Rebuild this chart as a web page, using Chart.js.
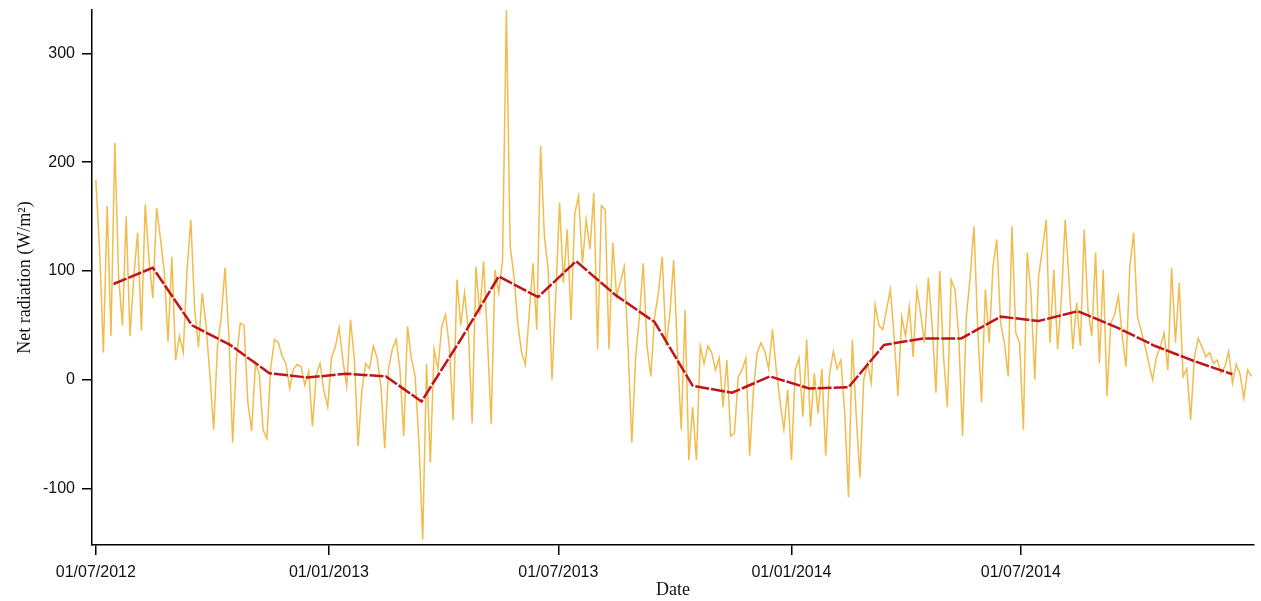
<!DOCTYPE html>
<html>
<head>
<meta charset="utf-8">
<script src="https://cdn.jsdelivr.net/npm/chart.js@4/dist/chart.umd.min.js"></script>
<style>
  html, body { margin: 0; padding: 0; background: #fff; }
  #wrap { width: 1261px; height: 601px; position: relative; }
</style>
</head>
<body>
<div id="wrap"><canvas id="chart"></canvas></div>
<script>
// --- Data ---
// daily net radiation, one reading every 3 days starting 01/07/2012
const startDate = '2012-07-01';
const dayStep = 3;
const dailyNetRad = [
  184, 120, 25, 160, 40, 218, 95, 50, 150, 40,
  95, 135, 45, 161, 110, 75, 158, 130, 100, 35,
  113, 18, 40, 25, 101, 147, 65, 30, 80, 50,
  5, -46, 30, 58, 103, 40, -58, 20, 52, 50,
  -21, -47, 15, 5, -46, -54, 10, 37, 34, 22,
  15, -8, 10, 14, 12, -5, 8, -43, 5, 15,
  -10, -25, 20, 30, 48, 18, -6, 55, 20, -61,
  -10, 15, 10, 31, 20, -6, -63, 10, 28, 37,
  10, -52, 49, 20, 3, -58, -147, 15, -76, 28,
  10, 49, 60, 30, -37, 92, 50, 80, 45, -40,
  104, 60, 109, 40, -41, 101, 80, 110, 340, 123,
  95, 52, 25, 14, 60, 107, 46, 215, 132, 101,
  0, 77, 163, 89, 138, 55, 153, 169, 107, 147,
  120, 172, 28, 160, 156, 28, 126, 77, 90, 104,
  31, -58, 20, 58, 107, 31, 3, 58, 80, 113,
  31, 60, 110, 25, -46, 64, -74, -25, -74, 31,
  15, 31, 25, 9, 20, -25, 18, -52, -49, 3,
  9, 20, -70, -9, 25, 34, 26, 10, 46, 9,
  -20, -46, -9, -74, 9, 20, -34, 37, -43, 6,
  -31, 10, -70, 5, 26, 10, 18, -30, -108, 37,
  -31, -90, 0, 15, -3, 69, 50, 46, 64, 83,
  40, -15, 58, 40, 67, 21, 83, 60, 34, 94,
  50, -12, 100, 21, -25, 92, 83, 40, -52, 58,
  94, 141, 46, -21, 83, 34, 104, 129, 52, 34,
  3, 141, 43, 34, -46, 117, 80, 0, 95, 120,
  147, 34, 101, 28, 74, 147, 92, 28, 71, 31,
  138, 64, 40, 117, 15, 101, -15, 52, 60, 77,
  40, 12, 104, 135, 58, 45, 31, 15, 0, 21,
  30, 43, 9, 103, 34, 89, 3, 10, -37, 21,
  38, 30, 21, 25, 15, 18, 6, 12, 26, -3,
  14, 5, -17, 9, 3
];

// monthly means, plotted at mid-month
const months = [
  '2012-07', '2012-08', '2012-09', '2012-10', '2012-11', '2012-12',
  '2013-01', '2013-02', '2013-03', '2013-04', '2013-05', '2013-06',
  '2013-07', '2013-08', '2013-09', '2013-10', '2013-11', '2013-12',
  '2014-01', '2014-02', '2014-03', '2014-04', '2014-05', '2014-06',
  '2014-07', '2014-08', '2014-09', '2014-10', '2014-11', '2014-12'
];
const monthlyNetRad = [
  88, 103, 50, 32, 6, 2,
  5.5, 3, -20, 37, 95, 76,
  109, 78, 53, -5.5, -12, 3,
  -8, -7, 32, 38, 38, 58,
  54, 63, 48, 31, 17, 5
];

const xTickLabels = ['01/07/2012', '01/01/2013', '01/07/2013', '01/01/2014', '01/07/2014'];
const yTickValues = [-100, 0, 100, 200, 300];

// --- Helpers ---
const DAY_MS = 86400000;
const t0 = Date.parse(startDate + 'T00:00:00Z');
const daysFrom = (y, m, d) => (Date.UTC(y, m - 1, d) - t0) / DAY_MS;

const dailyPoints = dailyNetRad.map((v, i) => ({ x: i * dayStep, y: v }));
const monthlyPoints = months.map((m, i) => {
  const [y, mo] = m.split('-').map(Number);
  return { x: daysFrom(y, mo, 15), y: monthlyNetRad[i] };
});
const xTickDays = xTickLabels.map(s => {
  const [d, m, y] = s.split('/').map(Number);
  return daysFrom(y, m, d);
});

const tickFont = { family: '"Liberation Sans", Arial, sans-serif', size: 16 };
const titleFont = { family: '"Liberation Serif", "Times New Roman", serif', size: 18 };

new Chart(document.getElementById('chart'), {
  type: 'line',
  data: {
    datasets: [
      {
        label: 'Monthly',
        data: monthlyPoints,
        borderColor: '#c0141c',
        borderWidth: 2.5,
        borderDash: [14, 2],
        pointRadius: 0,
        fill: false,
        tension: 0
      },
      {
        label: 'Daily',
        data: dailyPoints,
        borderColor: '#f2bc4c',
        borderWidth: 1.5,
        pointRadius: 0,
        fill: false,
        tension: 0
      }
    ]
  },
  options: {
    responsive: true,
    maintainAspectRatio: false,
    animation: false,
    layout: { padding: { top: 10, right: 7, left: 0, bottom: 0 } },
    plugins: { legend: { display: false }, tooltip: { enabled: false } },
    scales: {
      x: {
        type: 'linear',
        min: -3,
        max: 914,
        border: { display: true, color: '#000', width: 1.5 },
        grid: { display: true, drawOnChartArea: false, drawTicks: true, tickLength: 10, color: '#000', lineWidth: 1.5 },
        afterBuildTicks: scale => { scale.ticks = xTickDays.map(v => ({ value: v })); },
        ticks: {
          autoSkip: false,
          maxRotation: 0,
          padding: 8,
          color: '#111',
          font: tickFont,
          callback: (v, i) => xTickLabels[i]
        },
        title: { display: true, text: 'Date', color: '#111', font: titleFont, padding: { top: 0, bottom: 0 } },
        afterFit: scale => { scale.height = 56; }
      },
      y: {
        type: 'linear',
        min: -152,
        max: 340,
        border: { display: true, color: '#000', width: 1.5 },
        grid: { display: true, drawOnChartArea: false, drawTicks: true, tickLength: 10, color: '#000', lineWidth: 1.5 },
        afterBuildTicks: scale => { scale.ticks = yTickValues.map(v => ({ value: v })); },
        ticks: { padding: 7, color: '#111', font: tickFont },
        title: { display: true, text: 'Net radiation (W/m²)', color: '#111', font: titleFont, padding: { top: 14, bottom: 0 } },
        afterFit: scale => {
          scale.width = 92;
          scale.paddingTop = 0;
          scale.paddingBottom = 0;
        }
      }
    }
  }
});
</script>
</body>
</html>
